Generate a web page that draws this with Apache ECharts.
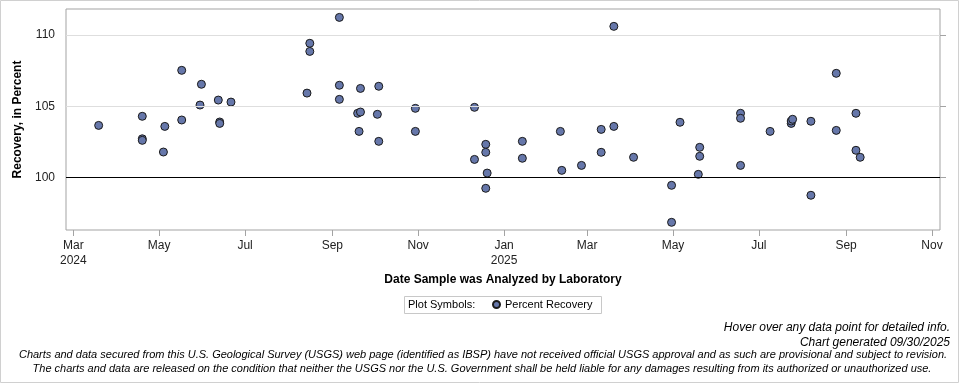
<!DOCTYPE html>
<html><head><meta charset="utf-8">
<script src="https://cdn.jsdelivr.net/npm/echarts@6/dist/echarts.min.js"></script>
<style>html,body{margin:0;padding:0;background:#fff}#c{width:960px;height:384px}</style>
</head><body><div id="c"></div>
<script>
// ---- data ----
const sampleDates = [
 '2024-03-19','2024-04-19','2024-04-19','2024-04-19','2024-05-05','2024-05-04','2024-05-17','2024-05-17',
 '2024-05-31','2024-05-30','2024-06-12','2024-06-13','2024-06-13','2024-06-21','2024-08-14','2024-08-16',
 '2024-08-16','2024-09-06','2024-09-06','2024-09-06','2024-09-19','2024-09-21','2024-09-21','2024-09-20',
 '2024-10-04','2024-10-04','2024-10-03','2024-10-30','2024-10-30','2024-12-11','2024-12-11','2024-12-19',
 '2024-12-19','2024-12-20','2024-12-19','2025-01-14','2025-01-14','2025-02-10','2025-02-11','2025-02-25',
 '2025-03-11','2025-03-11','2025-03-20','2025-03-20','2025-04-03','2025-04-30','2025-04-30','2025-05-06',
 '2025-05-20','2025-05-20','2025-05-19','2025-06-18','2025-06-18','2025-06-18','2025-07-09','2025-07-24',
 '2025-07-24','2025-07-25','2025-08-07','2025-08-07','2025-08-25','2025-08-25','2025-09-08','2025-09-08',
 '2025-09-11'
];
const recovery = [
 103.65,104.29,102.71,102.60,103.58,101.78,107.52,104.03,
 106.54,105.08,105.43,103.89,103.79,105.29,105.92,109.42,
 108.85,111.24,106.47,105.48,104.50,104.59,106.25,103.23,
 106.40,102.53,104.43,104.85,103.23,104.92,101.26,102.32,
 101.76,100.30,99.23,102.53,101.34,103.23,100.49,100.84,
 103.37,101.76,110.61,103.58,101.41,99.44,96.84,103.87,
 102.11,101.48,100.21,104.50,104.15,100.84,103.23,103.79,
 103.96,104.08,103.94,98.74,107.31,103.30,104.50,101.90,
 101.41
];
const tickDates = ['2024-03-01','2024-05-01','2024-07-01','2024-09-01','2024-11-01','2025-01-01',
                   '2025-03-01','2025-05-01','2025-07-01','2025-09-01','2025-11-01'];
const tickLabels = ['Mar\n2024','May','Jul','Sep','Nov','Jan\n2025','Mar','May','Jul','Sep','Nov'];
const yTicks = [100, 105, 110];
const gridValues = [105, 110];
const referenceValue = 100;
const seriesName = 'Percent Recovery';

// ---- helpers ----
const DAY = 86400000;
function toTime(s){ const p = s.split('-').map(Number); return Date.UTC(p[0], p[1]-1, p[2]); }
const tickTimes = tickDates.map(toTime);
const xMin = toTime('2024-03-01') - 5.2*DAY;
const xMax = toTime('2025-11-01') + 5.7*DAY;
const yMin = 96.3, yMax = 111.83;
const FONT = '"Liberation Sans", Arial, sans-serif';

const chart = echarts.init(document.getElementById('c'), null, {renderer:'canvas'});
chart.setOption({
  animation:false,
  backgroundColor:'#fff',
  textStyle:{fontFamily:FONT},
  grid:{left:66, right:20, top:9, bottom:154, show:true, borderColor:'#a3a3a3', borderWidth:1, backgroundColor:'transparent'},
  xAxis:{
    type:'value', min:xMin, max:xMax,
    axisLine:{show:false},
    axisTick:{show:true, customValues:tickTimes, length:6, lineStyle:{color:'#a3a3a3'}},
    axisLabel:{customValues:tickTimes, fontSize:12, color:'#222', margin:8, lineHeight:15, fontFamily:FONT,
      formatter:function(v){ let best=-1, bd=Infinity; tickTimes.forEach((t,i)=>{const d=Math.abs(t-v); if(d<bd){bd=d;best=i;}}); return bd < DAY ? tickLabels[best] : ''; }},
    splitLine:{show:false},
    name:'Date Sample was Analyzed by Laboratory', nameLocation:'middle', nameGap:44,
    nameTextStyle:{fontWeight:'bold', fontSize:12, color:'#000', fontFamily:FONT}
  },
  yAxis:[{
    type:'value', min:yMin, max:yMax,
    axisLine:{show:false}, axisTick:{show:false}, splitLine:{show:false},
    axisLabel:{customValues:yTicks, fontSize:12, color:'#222', margin:11, fontFamily:FONT},
    name:'Recovery, in Percent', nameLocation:'middle', nameGap:41,
    nameTextStyle:{fontWeight:'bold', fontSize:12, color:'#000', fontFamily:FONT}
  },{
    type:'value', position:'right', min:yMin, max:yMax,
    axisLine:{show:false}, splitLine:{show:false}, axisLabel:{show:false},
    axisTick:{show:true, customValues:yTicks, length:6, lineStyle:{color:'#a3a3a3'}}
  }],
  legend:{
    left:492, top:299, itemWidth:7, itemHeight:7, itemGap:10, padding:[0,0,0,0],
    textStyle:{fontSize:11, color:'#000', fontFamily:FONT},
    data:[{name:seriesName, icon:'circle'}]
  },
  series:[{
    type:'line', name:'refs', data:[], z:1, silent:true,
    markLine:{silent:true, symbol:'none', label:{show:false},
      data:gridValues.map(v=>({yAxis:v, lineStyle:{color:'#dedede', width:1, type:'solid'}}))
        .concat([{yAxis:referenceValue, lineStyle:{color:'#000', width:1, type:'solid'}}])}
  },{
    type:'scatter', name:seriesName, z:3,
    symbol:'circle', symbolSize:8,
    itemStyle:{color:'#6677aa', borderColor:'#1a1a1a', borderWidth:1, opacity:1},
    data:sampleDates.map((d,i)=>[toTime(d), recovery[i]])
  }],
  graphic:[
    {type:'rect', shape:{x:0.5, y:0.5, width:958, height:382}, style:{fill:'none', stroke:'#d0d0d0', lineWidth:1}, silent:true},
    {type:'rect', shape:{x:404.5, y:296.5, width:197, height:17}, style:{fill:'none', stroke:'#c8c8c8', lineWidth:1}, silent:true},
    {type:'text', x:408, y:305, style:{text:'Plot Symbols:', font:'11px '+FONT, fill:'#000', textAlign:'left', textVerticalAlign:'middle', verticalAlign:'middle'}, silent:true},
    {type:'text', x:950, y:327.5, style:{text:'Hover over any data point for detailed info.', font:'italic 12px '+FONT, fill:'#000', textAlign:'right', textVerticalAlign:'middle'}, silent:true},
    {type:'text', x:950, y:342.5, style:{text:'Chart generated 09/30/2025', font:'italic 12px '+FONT, fill:'#000', textAlign:'right', textVerticalAlign:'middle'}, silent:true},
    {type:'text', x:483, y:355, style:{text:'Charts and data secured from this U.S. Geological Survey (USGS) web page (identified as IBSP) have not received official USGS approval and as such are provisional and subject to revision.', font:'italic 11px '+FONT, fill:'#000', textAlign:'center', textVerticalAlign:'middle'}, silent:true},
    {type:'text', x:482, y:369, style:{text:'The charts and data are released on the condition that neither the USGS nor the U.S. Government shall be held liable for any damages resulting from its authorized or unauthorized use.', font:'italic 11px '+FONT, fill:'#000', textAlign:'center', textVerticalAlign:'middle'}, silent:true}
  ]
});
</script>
</body></html>
